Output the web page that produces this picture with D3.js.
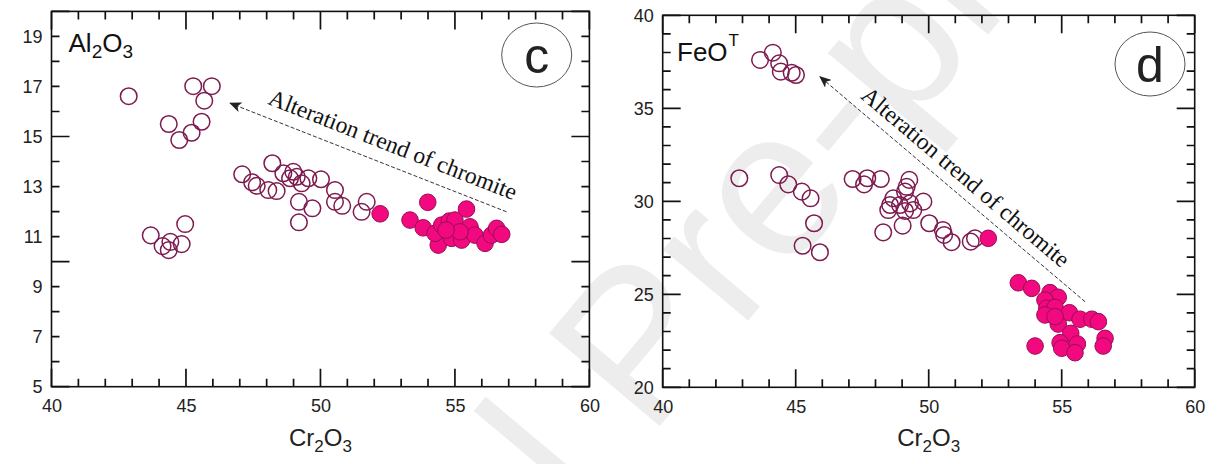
<!DOCTYPE html>
<html>
<head>
<meta charset="utf-8">
<script src="https://cdn.jsdelivr.net/npm/d3@7"></script>
<style>
  body { margin: 0; background: #fff; }
  svg { display: block; font-family: Arial, "Liberation Sans", sans-serif; }
</style>
</head>
<body>
<div id="chart"></div>
<script>
// tick labels
const xLabels = [40, 45, 50, 55, 60];
const alLabels = [5, 7, 9, 11, 13, 15, 17, 19];
const feLabels = [20, 25, 30, 35, 40];

// Cr2O3 vs Al2O3 (panel c)
const alAltered = [
  [42.87, 16.61], [45.27, 17.01], [45.96, 17.01], [45.68, 16.43], [44.36, 15.50],
  [44.75, 14.86], [45.21, 15.15], [45.58, 15.59], [44.97, 11.50], [43.69, 11.05],
  [44.13, 10.62], [44.42, 10.79], [44.36, 10.46], [44.84, 10.70],
  [47.09, 13.49], [47.46, 13.17], [47.63, 13.03], [48.21, 13.93], [48.06, 12.86],
  [48.37, 12.82], [48.62, 13.53], [48.99, 13.59], [48.87, 13.33], [49.12, 13.39],
  [49.30, 13.13], [49.55, 13.33], [50.02, 13.29], [49.20, 12.39], [49.70, 12.13],
  [49.20, 11.57], [50.54, 12.86], [50.54, 12.39], [50.81, 12.23], [51.72, 12.39],
  [51.53, 11.99]
];
const alChromite = [
  [52.22, 11.91], [53.99, 12.37], [53.33, 11.66], [53.82, 11.35], [54.38, 10.66],
  [54.26, 11.13], [54.51, 11.46], [54.79, 11.62], [55.00, 11.66], [55.43, 12.10],
  [54.88, 10.93], [55.25, 10.86], [55.56, 11.39], [55.74, 11.06], [56.12, 10.73],
  [56.36, 11.06], [56.55, 11.33], [56.74, 11.09], [55.19, 11.19], [54.67, 11.26]
];

// Cr2O3 vs FeO(T) (panel d)
const feAltered = [
  [43.66, 37.60], [44.14, 37.99], [44.38, 37.42], [44.44, 36.97], [44.85, 36.91],
  [45.01, 36.79], [42.88, 31.24], [44.38, 31.41], [44.72, 30.91], [45.23, 30.52],
  [45.56, 30.16], [45.69, 28.82], [45.26, 27.61], [45.91, 27.26], [47.14, 31.20],
  [47.57, 30.91], [47.69, 31.24], [48.20, 31.20], [49.27, 31.15], [49.17, 30.78],
  [49.11, 30.52], [48.67, 30.16], [48.55, 29.80], [48.48, 29.53], [48.92, 29.80],
  [49.11, 29.48], [49.30, 29.89], [49.42, 29.53], [49.80, 29.98], [48.29, 28.33],
  [49.02, 28.69], [50.02, 28.82], [50.53, 28.46], [50.58, 28.19], [50.86, 27.80],
  [51.58, 27.83], [51.74, 28.01]
];
const feChromite = [
  [52.24, 28.01], [53.37, 25.62], [53.87, 25.32], [54.56, 25.09], [54.87, 24.84],
  [54.37, 24.69], [54.44, 24.25], [54.75, 24.30], [54.37, 23.89], [55.29, 24.01],
  [54.87, 23.40], [55.69, 23.66], [56.13, 23.66], [56.38, 23.53], [55.34, 22.90],
  [54.94, 22.40], [55.59, 22.33], [55.00, 22.10], [55.50, 21.86], [54.00, 22.22],
  [56.63, 22.63], [56.56, 22.22], [54.75, 23.80]
];

const width = 1221, height = 464;

const panels = [
  {
    letter: "c", left: 51.5, right: 589.4, top: 11.4, bottom: 386.7,
    yDomain: [5, 20], yLabels: alLabels, altered: alAltered, chromite: alChromite,
    titleOffset: [17, 40.6],
    badgeOffset: [52.7, 43.6],
    arrowFrom: [56.92, 11.99], arrowTo: [46.64, 16.33], textAt: [52.59, 14.38]
  },
  {
    letter: "d", left: 662.7, right: 1194.7, top: 15.3, bottom: 387.3,
    yDomain: [20, 40], yLabels: feLabels, altered: feAltered, chromite: feChromite,
    titleOffset: [14.3, 45.5],
    badgeOffset: [44.7, 48.7],
    arrowFrom: [55.88, 24.60], arrowTo: [45.91, 36.70], textAt: [51.20, 30.98]
  }
];

const svg = d3.select("#chart").append("svg")
  .attr("width", width)
  .attr("height", height);

svg.append("defs").append("marker")
  .attr("id", "arrowhead")
  .attr("viewBox", "0 0 12 10")
  .attr("refX", 11).attr("refY", 5)
  .attr("markerWidth", 12).attr("markerHeight", 10)
  .attr("markerUnits", "userSpaceOnUse")
  .attr("orient", "auto")
  .append("path")
  .attr("d", "M0,0 L12,5 L0,10 L3,5 Z")
  .attr("fill", "#222");

// journal watermark (light, behind everything)
svg.append("text")
  .attr("transform", "translate(690,390) rotate(-50)")
  .attr("text-anchor", "middle")
  .attr("font-size", 210)
  .attr("fill", "#ededed")
  .text("Journal Pre-proof");

panels.forEach(p => {
  const x = d3.scaleLinear().domain([40, 60]).range([p.left, p.right]);
  const y = d3.scaleLinear().domain(p.yDomain).range([p.bottom, p.top]);
  const g = svg.append("g");

  const xAll = d3.range(40, 61);
  const yAll = d3.range(p.yDomain[0], p.yDomain[1] + 1);
  const tickLen = v => (v % 5 === 0 ? 18 : 8);

  // labels from d3 axes (no tick marks), frame + inward ticks drawn below
  g.append("g")
    .attr("transform", `translate(0,${p.bottom})`)
    .call(d3.axisBottom(x).tickValues(xLabels).tickSize(0).tickPadding(13).tickFormat(d3.format("d")))
    .call(a => a.select(".domain").remove())
    .selectAll("text").attr("font-size", 18).attr("fill", "#222");

  g.append("g")
    .attr("transform", `translate(${p.left},0)`)
    .call(d3.axisLeft(y).tickValues(p.yLabels).tickSize(0).tickPadding(9).tickFormat(d3.format("d")))
    .call(a => a.select(".domain").remove())
    .selectAll("text").attr("font-size", 18).attr("fill", "#222");

  // inward ticks as one path per panel
  const tk = d3.path();
  xAll.forEach(v => {
    tk.moveTo(x(v), p.bottom); tk.lineTo(x(v), p.bottom - tickLen(v));
    tk.moveTo(x(v), p.top); tk.lineTo(x(v), p.top + tickLen(v));
  });
  yAll.forEach(v => {
    tk.moveTo(p.left, y(v)); tk.lineTo(p.left + tickLen(v), y(v));
    tk.moveTo(p.right, y(v)); tk.lineTo(p.right - tickLen(v), y(v));
  });
  g.append("path")
    .attr("d", tk.toString())
    .attr("fill", "none")
    .attr("stroke", "#111")
    .attr("stroke-width", 1.7);

  g.append("rect")
    .attr("x", p.left).attr("y", p.top)
    .attr("width", p.right - p.left)
    .attr("height", p.bottom - p.top)
    .attr("fill", "none")
    .attr("stroke", "#111")
    .attr("stroke-width", 1.6);

  // x title Cr2O3
  const xt = g.append("text")
    .attr("x", (p.left + p.right) / 2)
    .attr("y", 446)
    .attr("text-anchor", "middle")
    .attr("font-size", 24)
    .attr("fill", "#222");
  xt.append("tspan").text("Cr");
  xt.append("tspan").attr("font-size", 17).attr("dy", 6).text("2");
  xt.append("tspan").attr("dy", -6).text("O");
  xt.append("tspan").attr("font-size", 17).attr("dy", 6).text("3");

  // y title inside the plot
  const yt = g.append("text")
    .attr("x", p.left + p.titleOffset[0])
    .attr("y", p.top + p.titleOffset[1])
    .attr("font-size", 26)
    .attr("fill", "#111");
  if (p.letter === "c") {
    yt.append("tspan").text("Al");
    yt.append("tspan").attr("font-size", 19).attr("dy", 6).text("2");
    yt.append("tspan").attr("dy", -6).text("O");
    yt.append("tspan").attr("font-size", 19).attr("dy", 6).text("3");
  } else {
    yt.append("tspan").text("FeO");
    yt.append("tspan").attr("font-size", 17).attr("dx", 1).attr("dy", -15).text("T");
  }

  // panel letter
  const bx = p.right - p.badgeOffset[0], by = p.top + p.badgeOffset[1];
  g.append("ellipse")
    .attr("cx", bx).attr("cy", by)
    .attr("rx", 35).attr("ry", 32)
    .attr("fill", "none")
    .attr("stroke", "#555")
    .attr("stroke-width", 1);
  g.append("text")
    .attr("x", bx).attr("y", by)
    .attr("dy", "0.35em")
    .attr("text-anchor", "middle")
    .attr("font-size", 50)
    .attr("fill", "#222")
    .text(p.letter);

  // alteration trend arrow
  const x1 = x(p.arrowFrom[0]), y1 = y(p.arrowFrom[1]);
  const x2 = x(p.arrowTo[0]), y2 = y(p.arrowTo[1]);
  g.append("line")
    .attr("x1", x1).attr("y1", y1)
    .attr("x2", x2).attr("y2", y2)
    .attr("stroke", "#333")
    .attr("stroke-width", 1)
    .attr("stroke-dasharray", "4,2")
    .attr("marker-end", "url(#arrowhead)");

  const angle = Math.atan2(y1 - y2, x1 - x2) * 180 / Math.PI;
  g.append("text")
    .attr("transform", `translate(${x(p.textAt[0])},${y(p.textAt[1])}) rotate(${angle})`)
    .attr("text-anchor", "middle")
    .attr("font-family", "'Liberation Serif', 'Times New Roman', serif")
    .attr("font-size", 23.5)
    .attr("fill", "#111")
    .text("Alteration trend of chromite");

  // data points
  g.selectAll(".altered")
    .data(p.altered)
    .enter()
    .append("circle")
    .attr("class", "altered")
    .attr("cx", d => x(d[0]))
    .attr("cy", d => y(d[1]))
    .attr("r", 8.3)
    .attr("fill", "none")
    .attr("stroke", "#7d1a4f")
    .attr("stroke-width", 1.5);

  g.selectAll(".chromite")
    .data(p.chromite)
    .enter()
    .append("circle")
    .attr("class", "chromite")
    .attr("cx", d => x(d[0]))
    .attr("cy", d => y(d[1]))
    .attr("r", 8.3)
    .attr("fill", "#f2087f")
    .attr("stroke", "#9a0d55")
    .attr("stroke-width", 1);
});
</script>
</body>
</html>
